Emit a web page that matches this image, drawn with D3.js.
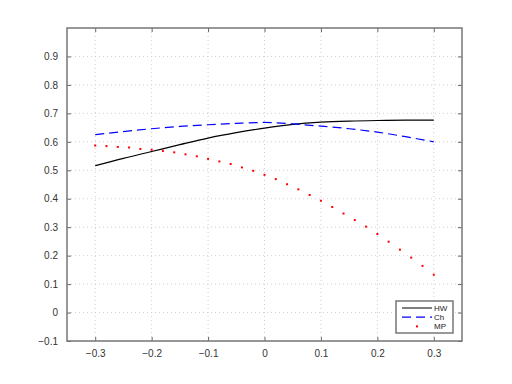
<html lang="en">
<head>
    <meta charset="UTF-8">
    <title>HW / Ch / MP</title>
    <style>
        body { margin: 0; background: #fff; }
        text { font-family: "Liberation Sans", Arial, sans-serif; }
        .grid line { stroke: #cfcfcf; stroke-dasharray: 1,3; }
    </style>
</head>
<body>
    <svg width="512" height="384"></svg>

    <script src="https://d3js.org/d3.v7.min.js" charset="utf-8"></script>
    <script>
        (function() {
            'use strict';

            var WIDTH = 512;
            var HEIGHT = 384;
            var margin = {top: 28, right: 50, bottom: 43, left: 67};

            // x values for the two lines (step 0.05) and for the dots (step 0.02)
            var xLine = [-0.3, -0.25, -0.2, -0.15, -0.1, -0.05, 0, 0.05, 0.1, 0.15, 0.2, 0.25, 0.3];
            var hw = [0.516, 0.542, 0.566, 0.590, 0.613, 0.632, 0.648, 0.661, 0.669, 0.673, 0.675, 0.676, 0.676];
            var ch = [0.625, 0.636, 0.646, 0.654, 0.660, 0.665, 0.668, 0.663, 0.655, 0.646, 0.634, 0.618, 0.600];

            var xDot = [-0.3, -0.28, -0.26, -0.24, -0.22, -0.2, -0.18, -0.16, -0.14, -0.12, -0.1, -0.08, -0.06, -0.04, -0.02,
                        0, 0.02, 0.04, 0.06, 0.08, 0.1, 0.12, 0.14, 0.16, 0.18, 0.2, 0.22, 0.24, 0.26, 0.28, 0.3];
            var mp = [0.587, 0.585, 0.582, 0.580, 0.575, 0.572, 0.568, 0.563, 0.556, 0.549, 0.540, 0.531, 0.522, 0.510, 0.498,
                      0.484, 0.469, 0.451, 0.433, 0.413, 0.393, 0.371, 0.348, 0.325, 0.302, 0.276, 0.249, 0.221, 0.193, 0.164, 0.133];

            var xTicks = [-0.3, -0.2, -0.1, 0, 0.1, 0.2, 0.3];
            var yTicks = [-0.1, 0, 0.1, 0.2, 0.3, 0.4, 0.5, 0.6, 0.7, 0.8, 0.9];
            var legendNames = ["HW", "Ch", "MP"];

            var w = WIDTH - margin.left - margin.right;
            var h = HEIGHT - margin.top - margin.bottom;

            var x = d3.scaleLinear().domain([-0.35, 0.35]).range([0, w]);
            var y = d3.scaleLinear().domain([-0.1, 1.0]).range([h, 0]);

            var fmt = function(d) { return d === 0 ? "0" : d3.format(".1f")(d); };

            var svg = d3.select("svg");
            var g = svg.append("g")
                .attr("transform", "translate(" + margin.left + "," + margin.top + ")");

            // dotted grid
            var grid = g.append("g").attr("class", "grid");
            grid.selectAll(".gx").data(xTicks).enter().append("line")
                .attr("x1", function(d) { return x(d); })
                .attr("x2", function(d) { return x(d); })
                .attr("y1", 0).attr("y2", h);
            grid.selectAll(".gy").data(yTicks).enter().append("line")
                .attr("x1", 0).attr("x2", w)
                .attr("y1", function(d) { return y(d); })
                .attr("y2", function(d) { return y(d); });

            // axes with inward ticks, mirrored on top and right
            function styleAxis(sel) {
                sel.select(".domain").remove();
                sel.selectAll(".tick line").attr("stroke", "#666");
                sel.selectAll(".tick text").attr("fill", "#333").attr("font-size", "10px");
            }

            g.append("g")
                .attr("transform", "translate(0," + h + ")")
                .call(d3.axisBottom(x).tickValues(xTicks).tickFormat(fmt).tickSizeInner(-4).tickPadding(9))
                .call(styleAxis);
            g.append("g")
                .call(d3.axisLeft(y).tickValues(yTicks).tickFormat(fmt).tickSizeInner(-4).tickPadding(9))
                .call(styleAxis);
            g.append("g")
                .call(d3.axisTop(x).tickValues(xTicks).tickFormat("").tickSizeInner(-4))
                .call(styleAxis);
            g.append("g")
                .attr("transform", "translate(" + w + ",0)")
                .call(d3.axisRight(y).tickValues(yTicks).tickFormat("").tickSizeInner(-4))
                .call(styleAxis);

            g.append("rect")
                .attr("width", w).attr("height", h)
                .attr("fill", "none")
                .attr("stroke", "#777")
                .attr("stroke-width", 1.5);

            var line = d3.line()
                .x(function(d) { return x(d[0]); })
                .y(function(d) { return y(d[1]); })
                .curve(d3.curveMonotoneX);

            g.append("path")
                .datum(d3.zip(xLine, hw))
                .attr("d", line)
                .attr("fill", "none")
                .attr("stroke", "#000")
                .attr("stroke-width", 1.2);

            g.append("path")
                .datum(d3.zip(xLine, ch))
                .attr("d", line)
                .attr("fill", "none")
                .attr("stroke", "#0000ff")
                .attr("stroke-width", 1.2)
                .attr("stroke-dasharray", "9,5");

            g.selectAll(".mp")
                .data(d3.zip(xDot, mp))
                .enter().append("rect")
                .attr("class", "mp")
                .attr("x", function(d) { return x(d[0]) - 1; })
                .attr("y", function(d) { return y(d[1]) - 1; })
                .attr("width", 2).attr("height", 2)
                .attr("fill", "#ff0000");

            // legend
            var lg = svg.append("g").attr("transform", "translate(396,301)");
            lg.append("rect")
                .attr("width", 57).attr("height", 32)
                .attr("fill", "#fff")
                .attr("stroke", "#777")
                .attr("stroke-width", 1.5);
            var rows = lg.selectAll(".row").data(legendNames).enter().append("g")
                .attr("transform", function(d, i) { return "translate(0," + (7 + i * 9.2) + ")"; });
            rows.append("text")
                .attr("x", 38).attr("y", 3)
                .attr("font-size", "8px")
                .attr("fill", "#222")
                .text(function(d) { return d; });
            rows.filter(function(d, i) { return i === 0; }).append("line")
                .attr("x1", 6).attr("x2", 36).attr("stroke", "#555").attr("stroke-width", 1.5);
            rows.filter(function(d, i) { return i === 1; }).append("line")
                .attr("x1", 6).attr("x2", 36).attr("stroke", "#0000ff").attr("stroke-width", 1.2)
                .attr("stroke-dasharray", "9,5");
            rows.filter(function(d, i) { return i === 2; }).append("rect")
                .attr("x", 20).attr("y", -1).attr("width", 2).attr("height", 2).attr("fill", "#ff0000");
        })();
    </script>
</body>
</html>
